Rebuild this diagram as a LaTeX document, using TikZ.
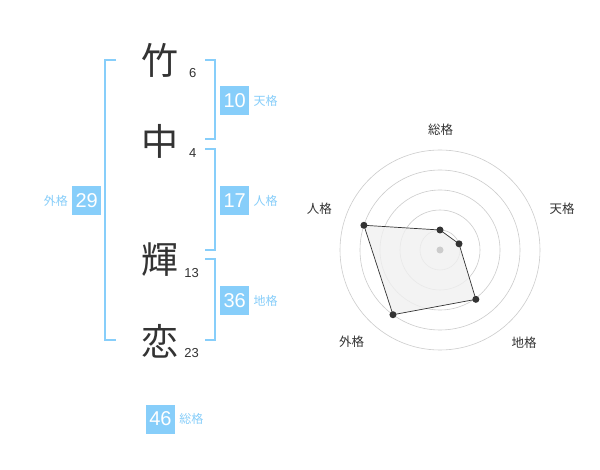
\documentclass[tikz,border=0pt]{standalone}
\usepackage{fontspec}
\setmainfont{Liberation Sans}
\newfontfamily\jpfont{Noto Sans CJK JP}
\usepackage{xcolor}
\usetikzlibrary{calc}
\definecolor{skyblue}{RGB}{135,206,250}
\definecolor{inkgray}{RGB}{51,51,51}
\definecolor{ringgray}{RGB}{204,204,204}
\definecolor{areagray}{RGB}{240,240,240}

\begin{document}
\begin{tikzpicture}[x=1pt,y=-1pt,
	bracket/.style={skyblue, line width=2pt},
	kanji/.style={text=inkgray, inner sep=0pt, font=\jpfont\fontsize{37}{37}\selectfont},
	strokes/.style={text=inkgray, inner sep=0pt, font=\fontsize{13}{13}\selectfont},
	scorebox/.style={fill=skyblue, text=white, minimum size=29pt, inner sep=0pt, font=\fontsize{20}{20}\selectfont},
	scorename/.style={text=skyblue, inner sep=0pt, font=\jpfont\fontsize{12}{12}\selectfont},
	axisname/.style={text=inkgray, inner sep=0pt, font=\jpfont\fontsize{12.5}{12.5}\selectfont}]
	\useasboundingbox[fill=white] (0,0) rectangle (600,470);
	
	% name characters and stroke counts
	\node[kanji] (c1) at (160,60) {竹};
	\node[kanji] (c2) at (160,141.5) {中};
	\node[kanji] (c3) at (160,260) {輝};
	\node[kanji] (c4) at (160,341.5) {恋};
	\node[strokes] (n1) at (192.7,72.7) {6};
	\node[strokes] (n2) at (192.7,153.3) {4};
	\node[strokes] (n3) at (191.7,272.7) {13};
	\node[strokes] (n4) at (191.7,352.7) {23};
	
	% brackets
	\draw[bracket] (116,60) -| (105,340) -- (116,340);
	\draw[bracket] (205,60) -| (215,139.5) -- (205,139.5);
	\draw[bracket] (205,149.5) -| (215,250) -- (205,250);
	\draw[bracket] (205,259.5) -| (215,340) -- (205,340);
	
	% scores
	\node[scorebox] (ten) at (234.7,100.5) {10};
	\node[scorename, right=4pt] (tenname) at (ten.east) {天格};
	\node[scorebox] (jin) at (234.7,201) {17};
	\node[scorename, right=4pt] (jinname) at (jin.east) {人格};
	\node[scorebox] (chi) at (234.7,301) {36};
	\node[scorename, right=4pt] (chiname) at (chi.east) {地格};
	\node[scorebox] (gai) at (86.7,201) {29};
	\node[scorename, left=4pt] (gainame) at (gai.west) {外格};
	\node[scorebox] (sou) at (160.5,419) {46};
	\node[scorename, right=4pt] (souname) at (sou.east) {総格};
	
	% radar chart
	\begin{scope}[shift={(440,250)}, yscale=-1]
		\foreach \r in {20,40,60,80,100}
			\draw[ringgray, line width=0.6pt] (0,0) circle (\r);
		\coordinate (psou) at (90:20);
		\coordinate (pten) at (18:20);
		\coordinate (pchi) at (-54:61);
		\coordinate (pgai) at (-126:80);
		\coordinate (pjin) at (162:80);
		\draw[inkgray, fill=areagray, fill opacity=0.8, line width=0.7pt]
		  (psou) -- (pten) -- (pchi) -- (pgai) -- (pjin) -- cycle;
		\fill[ringgray] (0,0) circle (3.5);
		\foreach \p in {psou,pten,pchi,pgai,pjin}
			\fill[inkgray] (\p) circle (3.5);
	\end{scope}
	\node[axisname] (asou) at (440.7,130) {総格};
	\node[axisname] (aten) at (562,208.3) {天格};
	\node[axisname] (achi) at (524,342.5) {地格};
	\node[axisname] (agai) at (351.7,342) {外格};
	\node[axisname] (ajin) at (319.3,208.5) {人格};
\end{tikzpicture}
\end{document}
